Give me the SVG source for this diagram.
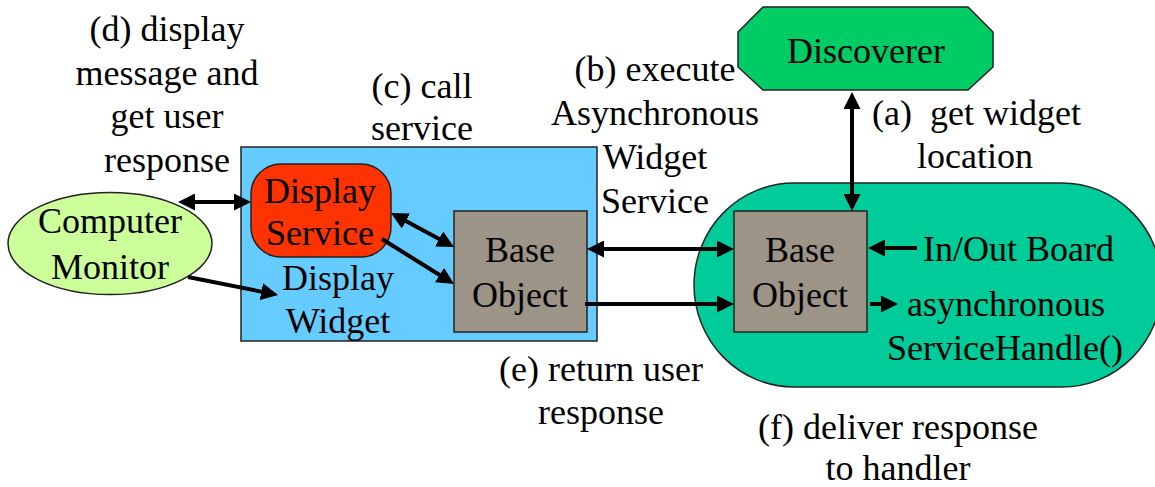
<svg xmlns="http://www.w3.org/2000/svg" width="1155" height="487" viewBox="0 0 1155 487">
<style>
text{font-size:36px;fill:#000}
.c{text-anchor:middle}
.shape{stroke:#222;stroke-width:1.5}
.conn{stroke:#000;stroke-width:4;fill:none}
</style>
<defs>
<marker id="ah" markerUnits="userSpaceOnUse" markerWidth="17" markerHeight="17" refX="9" refY="8.5" orient="auto-start-reverse">
<path d="M0,0 L17,8.5 L0,17 z" fill="#000"/>
</marker>
</defs>
<rect width="1155" height="487" fill="#fff"/>
<g font-family="'Liberation Serif', 'Times New Roman', serif">

<g id="discoverer">
<polygon class="shape" points="763,7 968,7 993,32 993,67 968,90 763,90 738,67 738,32" fill="#00CC66"/>
<text class="c" x="866" y="63">Discoverer</text>
</g>

<g id="widget-container">
<rect class="shape" x="694" y="183" width="468" height="204" rx="100" ry="102" fill="#00CC99"/>
</g>

<g id="display-widget">
<rect class="shape" x="241" y="147" width="356" height="194" fill="#66CCFF"/>
<text class="c" x="338" y="290">Display</text>
<text class="c" x="338" y="333">Widget</text>
</g>

<g id="display-service">
<rect class="shape" x="251" y="164" width="140" height="93" rx="30" ry="30" fill="#FF3300"/>
<text class="c" x="320" y="203">Display</text>
<text class="c" x="320" y="245">Service</text>
</g>

<g id="base-object-left">
<rect class="shape" x="454" y="211" width="133" height="121" fill="#9C9487"/>
<text class="c" x="520" y="262">Base</text>
<text class="c" x="520" y="307">Object</text>
</g>

<g id="base-object-right">
<rect class="shape" x="734" y="211" width="133" height="121" fill="#9C9487"/>
<text class="c" x="800" y="262">Base</text>
<text class="c" x="800" y="307">Object</text>
</g>

<g id="computer-monitor">
<ellipse class="shape" cx="110" cy="243.5" rx="102" ry="51" fill="#CCFF99"/>
<text class="c" x="110" y="233">Computer</text>
<text class="c" x="110" y="279">Monitor</text>
</g>

<g id="in-out-board">
<text x="923" y="261">In/Out Board</text>
</g>

<g id="service-handle">
<text x="907" y="316">asynchronous</text>
<text x="887" y="360">ServiceHandle()</text>
</g>

<g id="connectors">
<line class="conn" x1="852" y1="100" x2="852" y2="203" marker-start="url(#ah)" marker-end="url(#ah)"/>
<line class="conn" x1="186" y1="202" x2="243" y2="202" marker-start="url(#ah)" marker-end="url(#ah)"/>
<line class="conn" x1="398" y1="216.8" x2="447" y2="243.2" marker-start="url(#ah)" marker-end="url(#ah)"/>
<line class="conn" x1="382" y1="239" x2="447.2" y2="279.8" marker-end="url(#ah)"/>
<line class="conn" x1="188" y1="277" x2="270.2" y2="293.4" marker-end="url(#ah)"/>
<line class="conn" x1="595" y1="249" x2="726" y2="249" marker-start="url(#ah)" marker-end="url(#ah)"/>
<line class="conn" x1="585" y1="304" x2="726" y2="304" marker-end="url(#ah)"/>
<line class="conn" x1="917" y1="248" x2="876" y2="248" marker-end="url(#ah)"/>
<line class="conn" x1="870" y1="304" x2="890" y2="304" marker-end="url(#ah)"/>
</g>

<g id="labels">
<text class="c" x="167" y="41">(d) display</text>
<text class="c" x="167" y="85">message and</text>
<text class="c" x="167" y="128">get user</text>
<text class="c" x="167" y="172">response</text>
<text class="c" x="422" y="98">(c) call</text>
<text class="c" x="422" y="140">service</text>
<text class="c" x="655" y="81">(b) execute</text>
<text class="c" x="655" y="125">Asynchronous</text>
<text class="c" x="655" y="169">Widget</text>
<text class="c" x="655" y="213">Service</text>
<text x="872" y="125" xml:space="preserve">(a)  get widget</text>
<text class="c" x="975" y="168">location</text>
<text class="c" x="601" y="381">(e) return user</text>
<text class="c" x="601" y="424">response</text>
<text class="c" x="898" y="439">(f) deliver response</text>
<text class="c" x="898" y="480">to handler</text>
</g>
</g>
</svg>
